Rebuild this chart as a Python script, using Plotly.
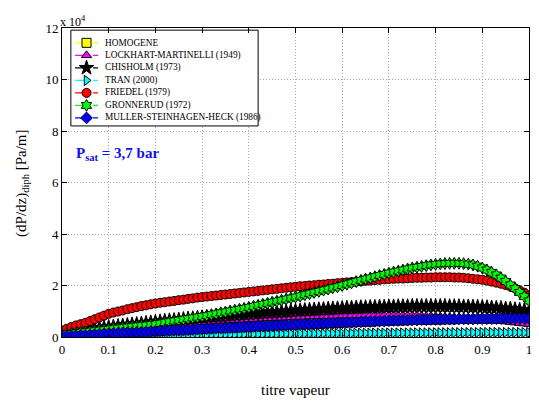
import plotly.graph_objects as go

# vapour quality
x_titre = [i / 100 for i in range(101)]

# pressure gradient values, in units of 1e4 Pa/m
homogene = [0.00,0.01,0.02,0.03,0.04,0.05,0.06,0.08,0.09,0.10,0.11,
            0.12,0.13,0.14,0.15,0.15,0.16,0.17,0.18,0.19,0.20,
            0.21,0.22,0.23,0.24,0.24,0.25,0.26,0.27,0.28,0.29,
            0.30,0.31,0.32,0.33,0.33,0.34,0.35,0.36,0.37,0.38,
            0.39,0.40,0.40,0.41,0.42,0.43,0.44,0.44,0.45,0.46,
            0.47,0.48,0.48,0.49,0.50,0.51,0.52,0.52,0.53,0.54,
            0.55,0.55,0.56,0.57,0.58,0.58,0.59,0.60,0.60,0.61,
            0.62,0.62,0.63,0.63,0.64,0.64,0.65,0.65,0.66,0.66,
            0.66,0.67,0.67,0.67,0.68,0.68,0.68,0.68,0.69,0.69,
            0.69,0.69,0.69,0.70,0.70,0.70,0.70,0.70,0.70,0.70]

lockhart = [0.05,0.08,0.10,0.12,0.14,0.16,0.18,0.20,0.22,0.24,0.25,
            0.27,0.29,0.30,0.32,0.34,0.35,0.37,0.38,0.40,0.42,
            0.43,0.45,0.46,0.48,0.49,0.51,0.52,0.54,0.55,0.57,
            0.58,0.59,0.60,0.62,0.63,0.64,0.65,0.66,0.67,0.68,
            0.69,0.70,0.71,0.72,0.73,0.74,0.74,0.75,0.76,0.77,
            0.78,0.78,0.79,0.80,0.80,0.81,0.81,0.82,0.82,0.83,
            0.83,0.84,0.84,0.84,0.85,0.85,0.85,0.85,0.85,0.85,
            0.85,0.84,0.84,0.84,0.83,0.83,0.82,0.81,0.81,0.80,
            0.79,0.78,0.77,0.76,0.75,0.74,0.73,0.72,0.70,0.69,
            0.67,0.66,0.64,0.62,0.60,0.58,0.56,0.54,0.52,0.50]

chisholm = [0.10,0.14,0.17,0.20,0.23,0.26,0.29,0.31,0.34,0.36,0.38,
            0.40,0.42,0.44,0.46,0.48,0.50,0.52,0.54,0.56,0.58,
            0.60,0.62,0.64,0.65,0.67,0.69,0.71,0.72,0.74,0.76,
            0.77,0.79,0.80,0.81,0.83,0.84,0.86,0.87,0.88,0.90,
            0.91,0.92,0.94,0.95,0.96,0.97,0.98,0.99,1.01,1.02,
            1.03,1.04,1.05,1.06,1.07,1.08,1.09,1.10,1.11,1.12,
            1.13,1.13,1.14,1.15,1.15,1.16,1.16,1.17,1.17,1.18,
            1.18,1.19,1.19,1.19,1.20,1.20,1.20,1.20,1.20,1.20,
            1.20,1.20,1.19,1.19,1.19,1.18,1.18,1.17,1.17,1.16,
            1.15,1.14,1.13,1.12,1.10,1.09,1.07,1.05,1.03,1.00]

tran = [0.000,0.005,0.010,0.014,0.018,0.022,0.026,0.030,0.033,0.037,0.040,
        0.043,0.046,0.049,0.052,0.055,0.058,0.061,0.064,0.067,0.070,
        0.072,0.074,0.076,0.078,0.080,0.082,0.084,0.086,0.088,0.090,
        0.092,0.094,0.096,0.098,0.100,0.102,0.104,0.106,0.108,0.110,
        0.112,0.114,0.116,0.118,0.120,0.122,0.124,0.126,0.128,0.130,
        0.131,0.132,0.133,0.134,0.135,0.136,0.137,0.138,0.139,0.140,
        0.141,0.142,0.143,0.144,0.145,0.146,0.147,0.148,0.149,0.150,
        0.151,0.152,0.153,0.154,0.155,0.156,0.157,0.158,0.159,0.160,
        0.161,0.162,0.163,0.164,0.165,0.166,0.167,0.168,0.169,0.170,
        0.170,0.170,0.170,0.170,0.170,0.170,0.170,0.170,0.170,0.170]

friedel = [0.25,0.32,0.39,0.45,0.50,0.55,0.62,0.69,0.76,0.83,0.90,
           0.95,0.99,1.03,1.08,1.12,1.16,1.20,1.23,1.27,1.30,
           1.33,1.35,1.38,1.40,1.43,1.45,1.48,1.50,1.53,1.55,
           1.57,1.59,1.61,1.63,1.65,1.67,1.69,1.71,1.73,1.75,
           1.77,1.79,1.81,1.83,1.85,1.87,1.89,1.91,1.93,1.95,
           1.97,1.98,2.00,2.01,2.03,2.04,2.06,2.07,2.09,2.10,
           2.12,2.13,2.15,2.16,2.18,2.19,2.21,2.22,2.24,2.25,
           2.26,2.27,2.27,2.28,2.29,2.30,2.30,2.31,2.31,2.32,
           2.32,2.32,2.32,2.31,2.31,2.30,2.28,2.26,2.24,2.22,
           2.19,2.15,2.11,2.07,2.02,1.96,1.89,1.81,1.72,1.60]

gronnerud = [0.10,0.12,0.14,0.16,0.18,0.20,0.22,0.24,0.26,0.28,0.30,
             0.32,0.34,0.36,0.38,0.40,0.42,0.44,0.46,0.48,0.50,
             0.53,0.56,0.59,0.62,0.65,0.68,0.71,0.74,0.77,0.80,
             0.83,0.87,0.90,0.94,0.97,1.01,1.04,1.08,1.11,1.15,
             1.19,1.23,1.27,1.31,1.35,1.39,1.43,1.47,1.51,1.55,
             1.59,1.64,1.68,1.73,1.77,1.82,1.86,1.91,1.95,2.00,
             2.05,2.10,2.15,2.20,2.25,2.29,2.34,2.39,2.43,2.48,
             2.52,2.56,2.60,2.64,2.68,2.71,2.74,2.77,2.80,2.82,
             2.84,2.85,2.86,2.86,2.86,2.85,2.83,2.80,2.75,2.68,
             2.60,2.51,2.41,2.29,2.16,2.02,1.88,1.73,1.57,1.40]

muller = [0.02,0.03,0.04,0.05,0.06,0.07,0.08,0.10,0.11,0.12,0.13,
          0.14,0.15,0.16,0.17,0.17,0.18,0.19,0.20,0.21,0.22,
          0.23,0.24,0.25,0.26,0.26,0.27,0.28,0.29,0.30,0.31,
          0.32,0.33,0.34,0.35,0.35,0.36,0.37,0.38,0.39,0.40,
          0.41,0.42,0.42,0.43,0.44,0.45,0.46,0.46,0.47,0.48,
          0.49,0.50,0.50,0.51,0.52,0.53,0.54,0.54,0.55,0.56,
          0.57,0.57,0.58,0.59,0.60,0.60,0.61,0.62,0.62,0.63,
          0.64,0.64,0.65,0.65,0.66,0.66,0.67,0.67,0.68,0.68,
          0.68,0.69,0.69,0.69,0.70,0.70,0.70,0.70,0.71,0.71,
          0.71,0.71,0.71,0.72,0.72,0.72,0.72,0.72,0.72,0.72]

series_names = ["HOMOGENE", "LOCKHART-MARTINELLI (1949)", "CHISHOLM (1973)",
                "TRAN (2000)", "FRIEDEL (1979)", "GRONNERUD (1972)",
                "MULLER-STEINHAGEN-HECK (1986)"]
series_values = [homogene, lockhart, chisholm, tran, friedel, gronnerud, muller]
series_colors = ["#ffff00", "#ff00ff", "#000000", "#00ffff", "#ff0000", "#00ff00", "#0000ff"]
series_symbols = ["square", "triangle-up", "star", "triangle-right", "circle", "hexagram", "diamond"]
series_sizes = [8, 9, 11, 9, 9, 9, 9]

y_ticks = [0, 2, 4, 6, 8, 10, 12]
x_ticks = [0, 0.1, 0.2, 0.3, 0.4, 0.5, 0.6, 0.7, 0.8, 0.9, 1]

SERIF = "Liberation Serif"

fig = go.Figure()
for name, vals, col, sym, sz in zip(series_names, series_values, series_colors,
                                    series_symbols, series_sizes):
    fig.add_trace(go.Scatter(
        x=x_titre, y=vals, name=name, mode="lines+markers", showlegend=False,
        line=dict(color=col, width=1, dash="dash"),
        marker=dict(symbol=sym, size=sz, color=col,
                    line=dict(color="black", width=1)),
    ))

# ---- custom compact legend (overlay axes in paper units) ----
leg_x0, leg_x1, leg_y0, leg_y1 = 0.019, 0.420, 0.683, 0.993
row_top, row_step = 0.952, 0.0405
line_a, line_b, mark_x, text_x = 0.028, 0.077, 0.0525, 0.088
fig.add_trace(go.Scatter(
    x=[leg_x0, leg_x1, leg_x1, leg_x0, leg_x0], y=[leg_y0, leg_y0, leg_y1, leg_y1, leg_y0],
    xaxis="x2", yaxis="y2", mode="lines", fill="toself", fillcolor="white",
    line=dict(color="black", width=1), showlegend=False, hoverinfo="skip"))
for i, (name, col, sym) in enumerate(zip(series_names, series_colors, series_symbols)):
    yy = row_top - i * row_step
    fig.add_trace(go.Scatter(
        x=[line_a, line_b], y=[yy, yy], xaxis="x2", yaxis="y2", mode="lines",
        showlegend=False, hoverinfo="skip",
        line=dict(color=col, width=1.2, dash="dash")))
    fig.add_trace(go.Scatter(
        x=[mark_x], y=[yy], xaxis="x2", yaxis="y2", mode="markers",
        showlegend=False, hoverinfo="skip",
        marker=dict(symbol=sym, size=9 if sym != "star" else 11, color=col,
                    line=dict(color="black", width=1))))
    fig.add_annotation(xref="paper", yref="paper", x=text_x, y=yy,
                       xanchor="left", yanchor="middle", text=name, showarrow=False,
                       font=dict(family=SERIF, size=9.3, color="black"))

axis_common = dict(showline=True, linecolor="black", linewidth=1, mirror="ticks",
                   ticks="inside", ticklen=5, tickcolor="black",
                   showgrid=True, gridcolor="#a8a8a8", griddash="1px,2px", gridwidth=1,
                   zeroline=False, automargin=False, ticklabeloverflow="allow",
                   tickfont=dict(family=SERIF, size=13, color="black"))

fig.update_xaxes(range=[0, 1], tickvals=x_ticks,
                 ticktext=[("%g" % v) for v in x_ticks], **axis_common)
fig.update_yaxes(range=[0, 12], tickvals=y_ticks, **axis_common)

fig.update_layout(
    xaxis2=dict(overlaying="x", range=[0, 1], visible=False, fixedrange=True),
    yaxis2=dict(overlaying="y", range=[0, 1], visible=False, fixedrange=True),
)

# axis titles
fig.add_annotation(xref="paper", yref="paper", x=0.499, y=-0.172,
                   xanchor="center", yanchor="middle", text="titre vapeur",
                   showarrow=False, font=dict(family=SERIF, size=15, color="black"))
fig.add_annotation(xref="paper", yref="paper", x=-0.086, y=0.498,
                   xanchor="center", yanchor="middle", textangle=-90,
                   text="(dP/dz)<sub>diph</sub> [Pa/m]",
                   showarrow=False, font=dict(family=SERIF, size=15, color="black"))

fig.add_annotation(xref="paper", yref="paper", x=0, y=1, xanchor="left", yanchor="bottom",
                   text="x 10<sup>4</sup>", showarrow=False,
                   font=dict(family=SERIF, size=12, color="black"), xshift=-4, yshift=-3)
fig.add_annotation(xref="x", yref="y", x=0.025, y=7.1, xanchor="left", yanchor="middle",
                   text="<b>P<sub>sat</sub> = 3,7 bar</b>", showarrow=False,
                   font=dict(family=SERIF, size=15, color="#1010ee"))

fig.update_layout(
    width=539, height=410,
    margin=dict(l=62, r=10, t=28, b=73, autoexpand=False),
    plot_bgcolor="white", paper_bgcolor="white",
    showlegend=False,
)

fig.write_html("out.html", config={"displayModeBar": False},
               post_script="document.body.style.margin='0';document.body.style.overflow='hidden';")
